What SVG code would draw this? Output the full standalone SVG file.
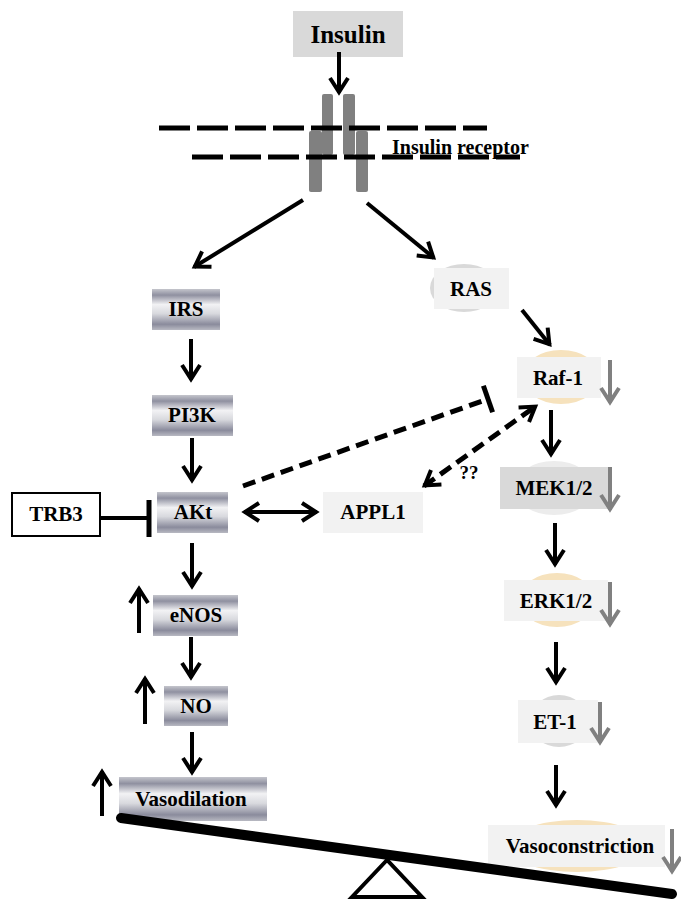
<svg xmlns="http://www.w3.org/2000/svg" width="681" height="901" viewBox="0 0 681 901">
<defs>
<linearGradient id="metal" x1="0" y1="0" x2="0" y2="1">
<stop offset="0" stop-color="#c4c5cc"/>
<stop offset="0.15" stop-color="#8f90a0"/>
<stop offset="0.38" stop-color="#f2f2f4"/>
<stop offset="0.6" stop-color="#d8d9de"/>
<stop offset="0.86" stop-color="#8a8b9c"/>
<stop offset="1" stop-color="#b8b9c2"/>
</linearGradient>
<marker id="ah" viewBox="-18 -11 22 22" markerWidth="22" markerHeight="22" refX="0" refY="0" orient="auto-start-reverse" markerUnits="userSpaceOnUse">
<path d="M-15,-9 L-1,0 L-15,9" fill="none" stroke="#000" stroke-width="4"/>
</marker>
<marker id="ahg" viewBox="-18 -11 22 22" markerWidth="22" markerHeight="22" refX="0" refY="0" orient="auto" markerUnits="userSpaceOnUse">
<path d="M-15,-9 L-1,0 L-15,9" fill="none" stroke="#808080" stroke-width="4"/>
</marker>
</defs>
<style>
text{font-family:"Liberation Serif","Times New Roman",serif;font-weight:bold;fill:#000;text-anchor:middle;font-size:21px}
.metal{fill:url(#metal)}
.lbox{fill:#f2f2f2}
.dbox{fill:#d9d9d9}
.tan{fill:#f6e2bd}
.gry{fill:#d9d9d9}
.lgry{fill:#ececec}
.arr{stroke:#000;stroke-width:4;fill:none;marker-end:url(#ah)}
.barr{stroke:#000;stroke-width:4;fill:none;marker-start:url(#ah);marker-end:url(#ah)}
.garr{stroke:#808080;stroke-width:4;fill:none;marker-end:url(#ahg)}
.dash{stroke:#000;stroke-width:5;fill:none;stroke-dasharray:13 7}
.mem{stroke:#000;stroke-width:5;fill:none;stroke-dasharray:31 7}
.rec{fill:#808080}
</style>

<g id="insulin">
<rect class="dbox" x="293" y="11" width="110" height="46"/>
<text x="348" y="43" style="font-size:25px">Insulin</text>
</g>

<g id="receptor">
<rect class="rec" x="322" y="94" width="11" height="61" rx="2"/>
<rect class="rec" x="343" y="94" width="12" height="61" rx="2"/>
<rect class="rec" x="309" y="131" width="13" height="61" rx="2"/>
<rect class="rec" x="356" y="131" width="12" height="61" rx="2"/>
<line class="mem" x1="159" y1="128" x2="487" y2="128"/>
<line class="mem" x1="192" y1="157" x2="520" y2="157"/>
<text x="392" y="154" style="font-size:20px;text-anchor:start">Insulin receptor</text>
</g>

<g id="irs">
<rect class="metal" x="152" y="289" width="68" height="41"/>
<text x="186" y="316">IRS</text>
</g>
<g id="pi3k">
<rect class="metal" x="152" y="395" width="81" height="41"/>
<text x="192" y="422">PI3K</text>
</g>
<g id="akt">
<rect class="metal" x="157" y="492" width="71" height="41"/>
<text x="193" y="519">AKt</text>
</g>
<g id="trb3">
<rect x="12" y="493" width="88" height="43" fill="#fff" stroke="#000" stroke-width="2"/>
<text x="56" y="521">TRB3</text>
</g>
<g id="appl1">
<rect class="lbox" x="323" y="492" width="100" height="41"/>
<text x="373" y="519">APPL1</text>
</g>
<g id="enos">
<rect class="metal" x="153" y="595" width="85" height="41"/>
<text x="196" y="622">eNOS</text>
</g>
<g id="no">
<rect class="metal" x="164" y="686" width="64" height="40"/>
<text x="196" y="713">NO</text>
</g>
<g id="vasodilation">
<rect class="metal" x="119" y="777" width="148" height="44"/>
<text x="191" y="806">Vasodilation</text>
</g>

<g id="ras">
<ellipse class="gry" cx="464" cy="288" rx="34" ry="24"/>
<rect class="lbox" x="434" y="268" width="75" height="41"/>
<text x="471" y="296">RAS</text>
</g>
<g id="raf1">
<ellipse class="tan" cx="561" cy="377" rx="39" ry="27"/>
<rect class="lbox" x="517" y="357" width="84" height="41"/>
<text x="558" y="385">Raf-1</text>
</g>
<g id="mek">
<ellipse class="lgry" cx="554" cy="488" rx="40" ry="27"/>
<rect class="dbox" x="500" y="467" width="112" height="42"/>
<text x="554" y="495">MEK1/2</text>
</g>
<g id="erk">
<ellipse class="tan" cx="557" cy="600" rx="38" ry="27"/>
<rect class="lbox" x="504" y="580" width="104" height="41"/>
<text x="556" y="608">ERK1/2</text>
</g>
<g id="et1">
<ellipse class="gry" cx="559" cy="721" rx="29" ry="26"/>
<rect class="lbox" x="518" y="700" width="80" height="43"/>
<text x="555" y="729">ET-1</text>
</g>
<g id="vasoconstriction">
<ellipse class="tan" cx="577" cy="846" rx="70" ry="26"/>
<rect class="lbox" x="488" y="825" width="177" height="42"/>
<text x="580" y="853">Vasoconstriction</text>
</g>

<g id="seesaw">
<line x1="121" y1="818" x2="672" y2="894" stroke="#000" stroke-width="10" stroke-linecap="round"/>
<polygon points="387,860 352,897 422,897" fill="#fff" stroke="#000" stroke-width="4"/>
</g>

<g id="connectors">
<line class="arr" x1="339" y1="52" x2="339" y2="93"/>
<line class="arr" x1="303" y1="200" x2="194" y2="267"/>
<line class="arr" x1="367" y1="203" x2="434" y2="258"/>
<line class="arr" x1="191" y1="339" x2="191" y2="380"/>
<line class="arr" x1="192" y1="438" x2="192" y2="481"/>
<line class="arr" x1="192" y1="543" x2="192" y2="587"/>
<line class="arr" x1="191" y1="637" x2="191" y2="678"/>
<line class="arr" x1="192" y1="732" x2="192" y2="773"/>
<line class="arr" x1="522" y1="310" x2="550" y2="345"/>
<line class="arr" x1="551" y1="410" x2="551" y2="455"/>
<line class="arr" x1="555" y1="523" x2="555" y2="565"/>
<line class="arr" x1="556" y1="642" x2="556" y2="683"/>
<line class="arr" x1="556" y1="765" x2="556" y2="806"/>
<line class="arr" x1="139" y1="633" x2="139" y2="588"/>
<line class="arr" x1="145" y1="724" x2="145" y2="678"/>
<line class="arr" x1="102" y1="816" x2="102" y2="771"/>
<line class="barr" x1="244" y1="512" x2="317" y2="512"/>
<line x1="100" y1="518" x2="149" y2="518" stroke="#000" stroke-width="4"/>
<line x1="149" y1="500" x2="149" y2="537" stroke="#000" stroke-width="5"/>
<line class="dash" x1="243" y1="486" x2="488" y2="399"/>
<line x1="483.4" y1="385.8" x2="492.6" y2="412.2" stroke="#000" stroke-width="5"/>
<line class="dash" x1="424" y1="486" x2="536" y2="406" style="marker-start:url(#ah);marker-end:url(#ah)"/>
<text x="469" y="479" style="font-size:19px">??</text>
<line class="garr" x1="610" y1="360" x2="610" y2="403"/>
<line class="garr" x1="610" y1="467" x2="610" y2="510"/>
<line class="garr" x1="610" y1="582" x2="610" y2="625"/>
<line class="garr" x1="600" y1="702" x2="600" y2="743"/>
<line class="garr" x1="672" y1="829" x2="672" y2="872"/>
</g>
</svg>
